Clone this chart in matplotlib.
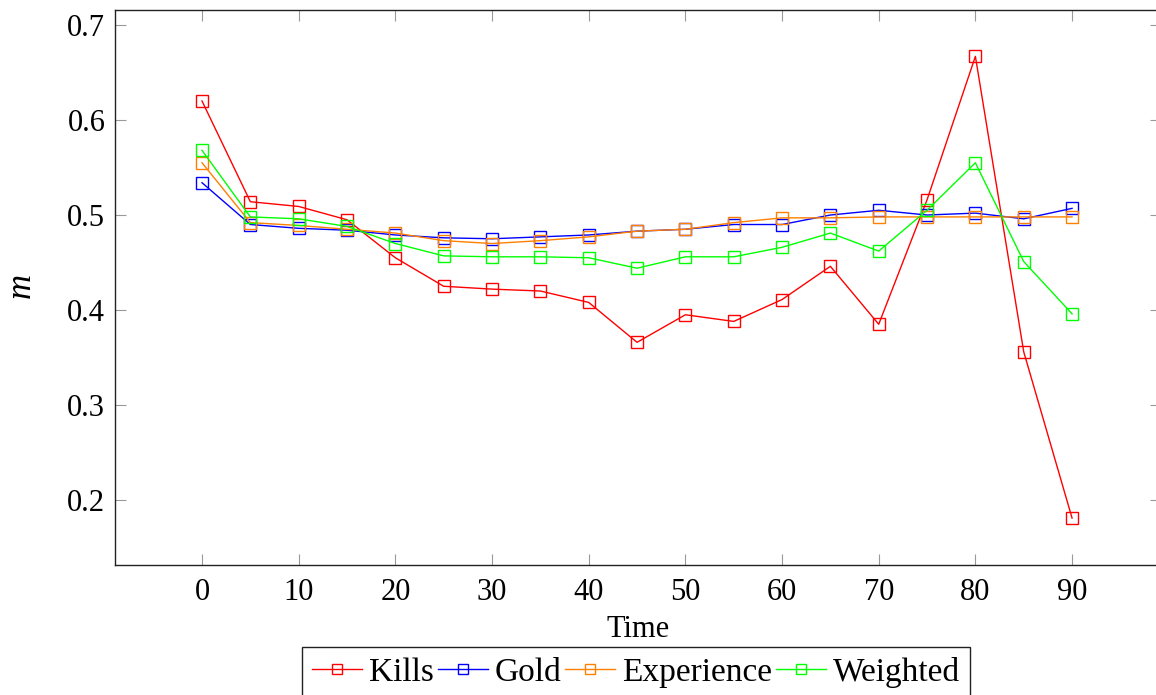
import matplotlib
matplotlib.use("Agg")
import matplotlib.pyplot as plt

# time steps and the four series
time = [0, 5, 10, 15, 20, 25, 30, 35, 40, 45, 50, 55, 60, 65, 70, 75, 80, 85, 90]
kills = [0.620, 0.514, 0.509, 0.495, 0.455, 0.425, 0.422, 0.420, 0.408, 0.366,
         0.395, 0.388, 0.411, 0.446, 0.385, 0.516, 0.667, 0.356, 0.181]
gold = [0.534, 0.490, 0.486, 0.484, 0.479, 0.476, 0.475, 0.477, 0.479, 0.483,
        0.485, 0.490, 0.490, 0.500, 0.505, 0.500, 0.502, 0.496, 0.507]
experience = [0.555, 0.492, 0.489, 0.485, 0.481, 0.473, 0.470, 0.473, 0.477, 0.483,
              0.485, 0.492, 0.497, 0.497, 0.498, 0.498, 0.498, 0.498, 0.498]
weighted = [0.568, 0.498, 0.496, 0.488, 0.470, 0.457, 0.456, 0.456, 0.455, 0.444,
            0.456, 0.456, 0.466, 0.481, 0.462, 0.505, 0.555, 0.451, 0.396]

xticks = [0, 10, 20, 30, 40, 50, 60, 70, 80, 90]
yticks = [0.2, 0.3, 0.4, 0.5, 0.6, 0.7]

plt.rcParams['font.family'] = ['Liberation Serif', 'DejaVu Serif']
plt.rcParams['mathtext.fontset'] = 'custom'
plt.rcParams['mathtext.it'] = 'Liberation Serif:italic'
plt.rcParams['font.size'] = 22

fig = plt.figure(figsize=(11.56, 6.95), dpi=100)
# right spine sits just past the image edge, like the cropped reference
ax = fig.add_axes([115 / 1156, 1 - 565 / 695, 1046 / 1156, 555 / 695])

style = dict(marker='s', markersize=8, markerfacecolor='none', markeredgewidth=1.0, linewidth=1.0)
ax.plot(time, kills, color='#ff0000', label='Kills', **style)
ax.plot(time, gold, color='#0000ff', label='Gold', **style)
ax.plot(time, experience, color='#ff8000', label='Experience', **style)
ax.plot(time, weighted, color='#00ff00', label='Weighted', **style)

ax.set_xlim(-9, 99.2)
ax.set_ylim(0.1316, 0.7158)
ax.set_xticks(xticks)
ax.set_yticks(yticks)
ax.set_yticklabels([f'{v:.1f}' for v in yticks])
ax.tick_params(direction='in', length=8, width=0.8, color='#999999',
               top=True, right=True, pad=7)
ax.tick_params(axis='x', pad=9)
for s in ax.spines.values():
    s.set_linewidth(1.0)
    s.set_color('#222222')

ax.set_xlabel('Time', labelpad=6)
ax.set_ylabel('$m$', labelpad=20, fontsize=25)

fig.legend(loc='upper center', bbox_to_anchor=(636 / 1156, 1 - 647 / 695), ncol=4,
           fontsize=24, frameon=True, fancybox=False, edgecolor='#222222', framealpha=1,
           handlelength=1.5, handletextpad=0.22, columnspacing=0.1,
           markerscale=0.85, borderpad=0.3, borderaxespad=0)

fig.savefig('out.png', dpi=100)
